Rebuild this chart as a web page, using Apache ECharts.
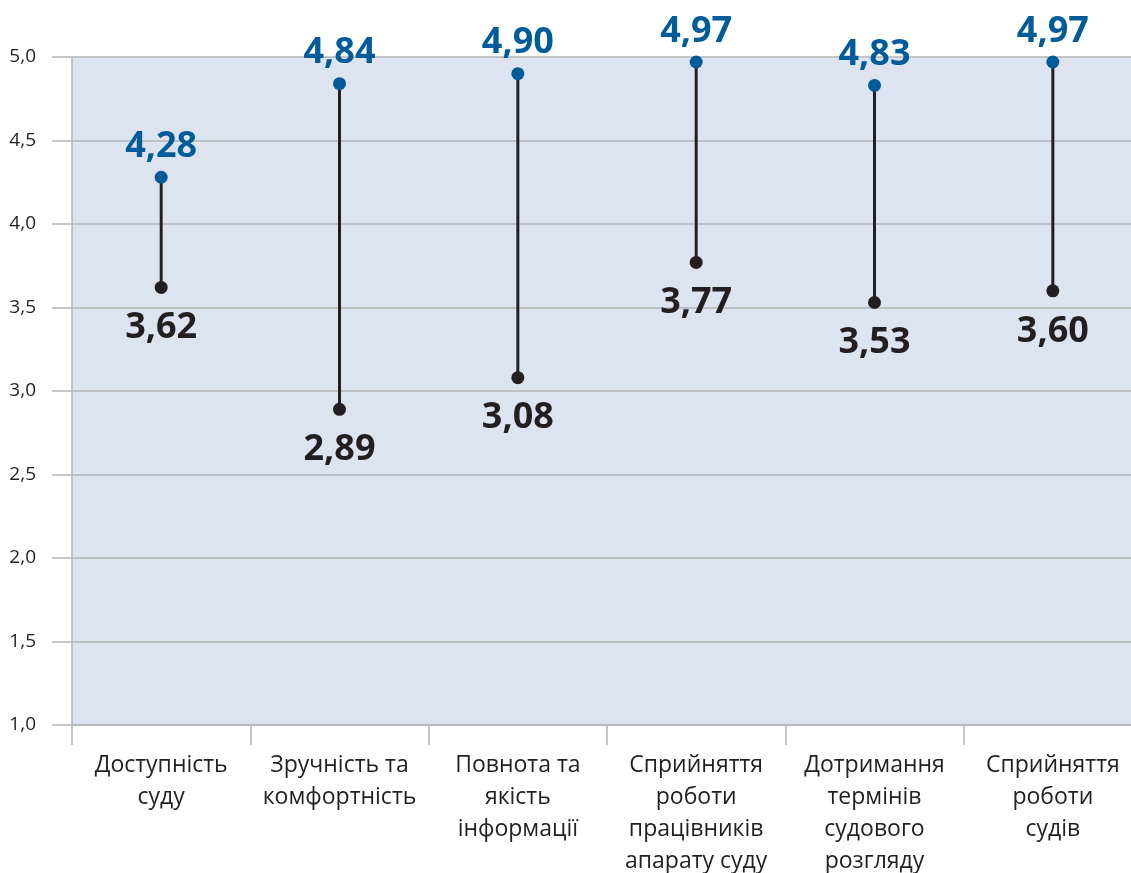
<!DOCTYPE html>
<html>
<head>
<meta charset="utf-8">
<script src="https://cdn.jsdelivr.net/npm/echarts@6/dist/echarts.min.js"></script>
<style>
  html, body { margin: 0; padding: 0; background: #fff; }
  #chart { width: 1131px; height: 873px; }
</style>
</head>
<body>
<div id="chart"></div>
<script>
// категорії та значення
const categories = [
  'Доступність\nсуду',
  'Зручність та\nкомфортність',
  'Повнота та\nякість\nінформації',
  'Сприйняття\nроботи\nпрацівників\nапарату суду',
  'Дотримання\nтермінів\nсудового\nрозгляду',
  'Сприйняття\nроботи\nсудів'
];
const highValues = [4.28, 4.84, 4.90, 4.97, 4.83, 4.97];
const lowValues = [3.62, 2.89, 3.08, 3.77, 3.53, 3.60];

const comma = (v, d) => v.toFixed(d).replace('.', ',');
const labelFont = '"Open Sans", sans-serif';

const chart = echarts.init(document.getElementById('chart'));
chart.setOption({
  animation: false,
  grid: {
    left: 72, right: -11, top: 57, bottom: 148,
    outerBoundsMode: 'none',
    show: true, backgroundColor: '#dde4ef', borderWidth: 0
  },
  xAxis: {
    type: 'category',
    data: categories,
    boundaryGap: true,
    axisLine: { show: true, lineStyle: { color: '#b4b4b4', width: 1.5 } },
    axisTick: { show: true, length: 20, lineStyle: { color: '#b4b4b4', width: 1.5 } },
    axisLabel: {
      interval: 0, margin: 24, color: '#231f20', fontSize: 23, lineHeight: 32,
      fontFamily: '"Open Sans", sans-serif'
    }
  },
  yAxis: {
    type: 'value',
    min: 1, max: 5, interval: 0.5,
    axisLine: { show: true, lineStyle: { color: '#b4b4b4', width: 1.5 } },
    axisTick: { show: true, length: 20, lineStyle: { color: '#b4b4b4', width: 1.5 } },
    splitLine: { show: true, lineStyle: { color: '#b4b4b4', width: 1.5 } },
    axisLabel: {
      margin: 36, color: '#231f20', fontSize: 19,
      fontFamily: '"Open Sans", sans-serif',
      formatter: v => comma(v, 1)
    }
  },
  series: [
    {
      type: 'custom',
      data: categories.map((c, i) => [i, lowValues[i], highValues[i]]),
      renderItem: function (params, api) {
        const p1 = api.coord([api.value(0), api.value(1)]);
        const p2 = api.coord([api.value(0), api.value(2)]);
        return {
          type: 'line',
          shape: { x1: p1[0], y1: p1[1], x2: p2[0], y2: p2[1] },
          style: { stroke: '#231f20', lineWidth: 3 }
        };
      },
      z: 2
    },
    {
      type: 'scatter',
      data: highValues,
      symbolSize: 13,
      itemStyle: { color: '#005b9a', opacity: 1 },
      label: {
        show: true, position: 'top', distance: 6,
        color: '#005b9a', fontSize: 36, fontWeight: 'bold', fontFamily: labelFont,
        formatter: p => comma(p.value, 2)
      },
      z: 3
    },
    {
      type: 'scatter',
      data: lowValues,
      symbolSize: 13,
      itemStyle: { color: '#231f20', opacity: 1 },
      label: {
        show: true, position: 'bottom', distance: 16,
        color: '#231f20', fontSize: 36, fontWeight: 'bold', fontFamily: labelFont,
        formatter: p => comma(p.value, 2)
      },
      z: 3
    }
  ]
});
</script>
</body>
</html>
